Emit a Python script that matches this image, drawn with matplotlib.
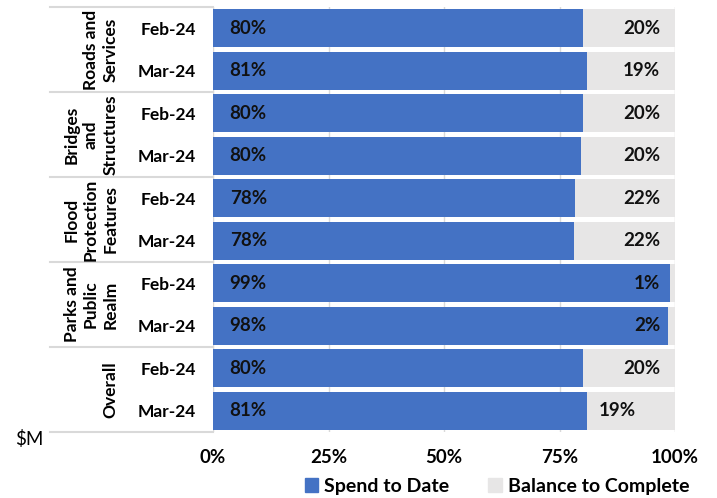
import numpy as np
import matplotlib.pyplot as plt
from matplotlib.patches import Patch
from matplotlib.transforms import blended_transform_factory

plt.rcParams['font.family'] = ['Lato', 'DejaVu Sans']

# Dados
groups = ['Roads and\nServices', 'Bridges\nand\nStructures', 'Flood\nProtection\nFeatures',
          'Parks and\nPublic\nRealm', 'Overall']
months = ['Feb-24', 'Mar-24'] * 5
spend = [80.0, 81.0, 80.0, 79.6, 78.4, 78.2, 99.0, 98.4, 80.0, 81.0]
balance = [100 - s for s in spend]

blue = '#4472C4'
grey = '#E7E6E6'
line_c = '#D9D9D9'

fig = plt.figure(figsize=(7.17, 4.98), dpi=100)
W, H = 717, 498
ax = fig.add_axes([213 / W, 1 - 432 / H, (675 - 213) / W, (432 - 7) / H])

y = np.arange(len(spend))
ax.barh(y, spend, height=0.9, color=blue, zorder=2)
ax.barh(y, balance, left=spend, height=0.9, color=grey, zorder=2)

ax.set_xlim(0, 100)
ax.set_ylim(len(spend) - 0.5, -0.5)
ax.set_xticks([0, 25, 50, 75, 100])
ax.set_xticklabels(['0%', '25%', '50%', '75%', '100%'], fontsize=13.5, fontweight='bold')
ax.tick_params(axis='x', length=0, pad=12)
ax.set_yticks(y)
ax.set_yticklabels(months, fontsize=12.5, fontweight='bold')
ax.tick_params(axis='y', length=0, pad=12)
ax.grid(axis='x', color=line_c, lw=1, zorder=0)
for s in ax.spines.values():
    s.set_visible(False)

# Rótulos das barras
for i in range(len(spend)):
    ax.text(3.6, i, f'{round(spend[i])}%', ha='left', va='center',
            fontsize=13.5, fontweight='bold', color='#111111', zorder=3)
    if i == len(spend) - 1:
        ax.text(spend[i] + 2.5, i, f'{round(balance[i])}%', ha='left', va='center',
                fontsize=13.5, fontweight='bold', color='#111111', zorder=3)
    else:
        ax.text(96.8, i, f'{round(balance[i])}%', ha='right', va='center',
                fontsize=13.5, fontweight='bold', color='#111111', zorder=3)

# Grupos à esquerda
tr = blended_transform_factory(ax.transAxes, ax.transData)
x0 = (50 - 213) / 462
for g, name in enumerate(groups):
    yc = 2 * g + 0.5
    ax.text(-0.205, yc, name, transform=tr, rotation=90, ha='right', va='center',
            multialignment='center', fontsize=12.5, fontweight='bold',
            linespacing=1.25, clip_on=False)
for b in range(len(groups) + 1):
    ax.plot([x0, 0], [2 * b - 0.5] * 2, transform=tr, color=line_c, lw=1.5,
            clip_on=False, zorder=1)

fig.text(15 / W, 1 - 439 / H, '$M', fontsize=13.5, va='center', ha='left')

handles = [Patch(color=blue, label='Spend to Date'),
           Patch(color=grey, label='Balance to Complete')]
fig.legend(handles=handles, loc='center', bbox_to_anchor=(497 / W, 1 - 486 / H),
           ncol=2, frameon=False, prop={'size': 14, 'weight': 'bold'},
           handlelength=0.7, handleheight=0.7, handletextpad=0.3, columnspacing=2.0)

fig.savefig('out.png', dpi=100)
